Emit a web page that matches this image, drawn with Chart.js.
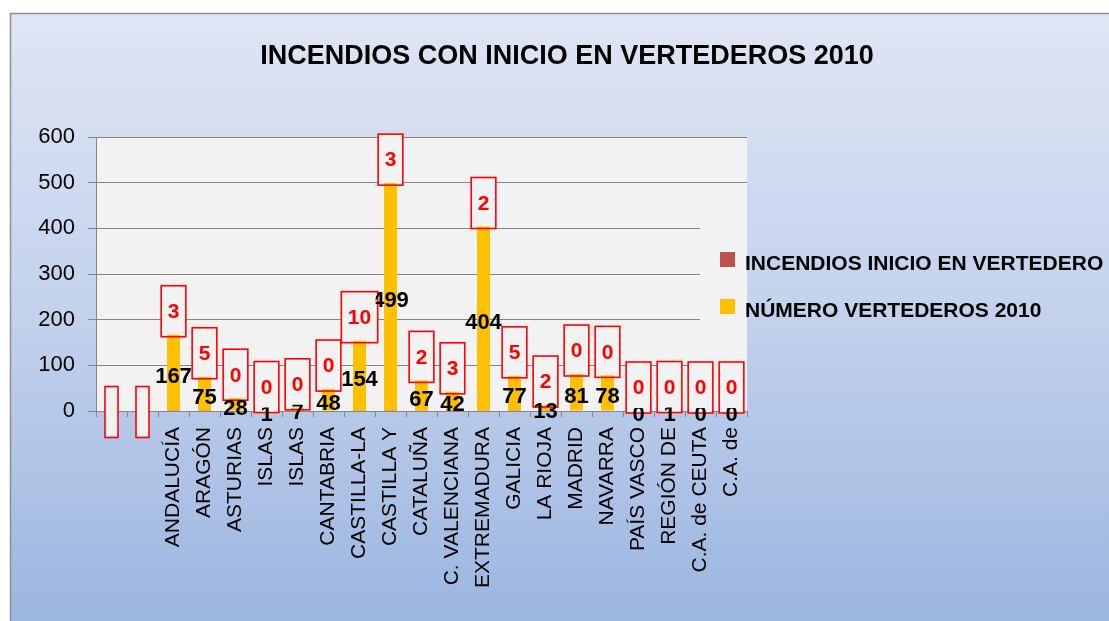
<!DOCTYPE html>
<html lang="es">
<head>
<meta charset="utf-8">
<title>Incendios con inicio en vertederos 2010</title>
<script src="https://cdn.jsdelivr.net/npm/chart.js@4.4.1/dist/chart.umd.min.js"></script>
<style>
  html, body { margin: 0; padding: 0; background: #fff; }
  #wrap { width: 1109px; height: 621px; }
</style>
</head>
<body>
<div id="wrap"><canvas id="graf" width="1109" height="621"></canvas></div>
<script>
// ---------- datos ----------
const comunidades = [
  "", "", "ANDALUCÍA", "ARAGÓN", "ASTURIAS", "ISLAS", "ISLAS", "CANTABRIA",
  "CASTILLA-LA", "CASTILLA Y", "CATALUÑA", "C. VALENCIANA", "EXTREMADURA",
  "GALICIA", "LA RIOJA", "MADRID", "NAVARRA", "PAÍS VASCO", "REGIÓN DE",
  "C.A. de CEUTA", "C.A. de",
];
const incendios = [null, null, 3, 5, 0, 0, 0, 0, 10, 3, 2, 3, 2, 5, 2, 0, 0, 0, 0, 0, 0];
const vertederos = [null, null, 167, 75, 28, 1, 7, 48, 154, 499, 67, 42, 404, 77, 13, 81, 78, 0, 1, 0, 0];
const ticksY = [0, 100, 200, 300, 400, 500, 600];

const TITULO = "INCENDIOS CON INICIO EN VERTEDEROS 2010";
const FUENTE = "'Liberation Sans', Arial, sans-serif";
const ROJO = "#ff0000";
const FONDO_PLOT = "#f2f2f2";
const GRIS = "#868686";

// ---------- cajas rojas (etiquetas de incendios) ----------
function cajas(chart) {
  const meta = chart.getDatasetMeta(1);
  const y = chart.scales.y;
  const ctx = chart.ctx;
  ctx.save();
  ctx.font = "bold 21px " + FUENTE;
  const out = incendios.map((v, i) => {
    const txt = v === null ? "" : String(v);
    const w = ctx.measureText(txt).width + 13;
    const h = 51;
    const x = meta.data[i].x;
    let cy;
    if (vertederos[i] === null) cy = y.getPixelForValue(0) + 1;
    else cy = y.getPixelForValue(vertederos[i]) + 2 - h / 2;
    return { x: x - w / 2, y: cy - h / 2, w, h, cx: x, cy, txt };
  });
  ctx.restore();
  return out;
}

const fondo = {
  id: "fondo",
  beforeDraw(chart) {
    const { ctx, width, height, chartArea: a } = chart;
    ctx.save();
    ctx.fillStyle = "#fff";
    ctx.fillRect(0, 0, width, height);
    const g = ctx.createLinearGradient(0, 13, 0, height);
    g.addColorStop(0, "#dfe6f4");
    g.addColorStop(0.5, "#c3d1ec");
    g.addColorStop(1, "#9bb6e0");
    ctx.fillStyle = g;
    ctx.fillRect(10, 13, width - 10, height - 13);
    ctx.strokeStyle = "#8f8f8f";
    ctx.lineWidth = 1.5;
    ctx.beginPath();
    ctx.moveTo(10.5, height);
    ctx.lineTo(10.5, 13.5);
    ctx.lineTo(width, 13.5);
    ctx.stroke();
    ctx.fillStyle = FONDO_PLOT;
    ctx.fillRect(a.left, a.top, a.right - a.left, a.bottom - a.top);
    // título
    ctx.fillStyle = "#000";
    ctx.font = "bold 27px " + FUENTE;
    ctx.textAlign = "center";
    ctx.textBaseline = "middle";
    ctx.fillText(TITULO, 567, 57);
    ctx.restore();
  },
};

const etiquetas = {
  id: "etiquetas",
  beforeDatasetsDraw(chart) {
    const { ctx, chartArea: a } = chart;
    ctx.save();
    // zona de la leyenda tapa la rejilla
    ctx.fillStyle = FONDO_PLOT;
    ctx.fillRect(700, 195, a.right - 700, 190);
    cajas(chart).forEach((c) => ctx.fillRect(c.x, c.y, c.w, c.h));
    ctx.restore();
  },
  afterDatasetsDraw(chart) {
    const { ctx, width, height } = chart;
    const y = chart.scales.y;
    const meta = chart.getDatasetMeta(1);
    const cs = cajas(chart);
    ctx.save();
    // cajas
    ctx.strokeStyle = ROJO;
    ctx.lineWidth = 1.6;
    ctx.fillStyle = ROJO;
    ctx.font = "bold 21px " + FUENTE;
    ctx.textAlign = "center";
    ctx.textBaseline = "middle";
    cs.forEach((c) => {
      ctx.strokeRect(c.x, c.y, c.w, c.h);
      if (c.txt) ctx.fillText(c.txt, c.cx, c.cy + 1);
    });
    // valores de vertederos
    ctx.beginPath();
    ctx.rect(0, 0, width, height);
    cs.forEach((c) => ctx.rect(c.x + 2, c.y + 2, c.w - 4, c.h - 7));
    ctx.clip("evenodd");
    ctx.fillStyle = "#000";
    ctx.font = "bold 22px " + FUENTE;
    vertederos.forEach((v, i) => {
      if (v === null) return;
      ctx.fillText(String(v), meta.data[i].x, y.getPixelForValue(v / 2) + 4);
    });
    ctx.restore();

    // leyenda
    ctx.save();
    ctx.font = "bold 21px " + FUENTE;
    ctx.textAlign = "left";
    ctx.textBaseline = "alphabetic";
    chart.data.datasets.forEach((ds, i) => {
      const top = 252 + i * 47;
      ctx.fillStyle = ds.backgroundColor;
      ctx.fillRect(720, top, 15, 15);
      ctx.fillStyle = "#000";
      ctx.fillText(ds.label, 745, top + 18);
    });
    ctx.restore();
  },
};

// ---------- gráfico ----------
const chart = new Chart(document.getElementById("graf"), {
  type: "bar",
  data: {
    labels: comunidades,
    datasets: [
      {
        label: "INCENDIOS INICIO EN VERTEDERO",
        data: incendios,
        backgroundColor: "#c0504d",
        grouped: false,
        order: 1,
      },
      {
        label: "NÚMERO VERTEDEROS 2010",
        data: vertederos,
        backgroundColor: "#ffc000",
        grouped: false,
        order: 0,
      },
    ],
  },
  options: {
    responsive: false,
    devicePixelRatio: 1,
    animation: false,
    categoryPercentage: 1,
    barPercentage: 0.42,
    layout: { padding: { left: 10, right: 362, top: 137, bottom: 0 } },
    plugins: {
      legend: { display: false },
      tooltip: { enabled: false },
      title: { display: false },
    },
    scales: {
      x: {
        afterFit: (s) => { s.height = 210; },
        grid: { drawOnChartArea: false, color: GRIS, tickLength: 6, offset: true },
        border: { color: GRIS },
        ticks: {
          autoSkip: false,
          minRotation: 90,
          maxRotation: 90,
          padding: 10,
          color: "#000",
          font: { family: FUENTE, size: 21 },
        },
      },
      y: {
        min: 0,
        max: 600,
        afterFit: (s) => { s.width = 86; },
        afterBuildTicks: (s) => { s.ticks = ticksY.map((v) => ({ value: v })); },
        grid: { color: GRIS, tickLength: 8 },
        border: { color: GRIS },
        ticks: {
          padding: 13,
          color: "#000",
          font: { family: FUENTE, size: 22 },
        },
      },
    },
  },
  plugins: [fondo, etiquetas],
});
</script>
</body>
</html>
